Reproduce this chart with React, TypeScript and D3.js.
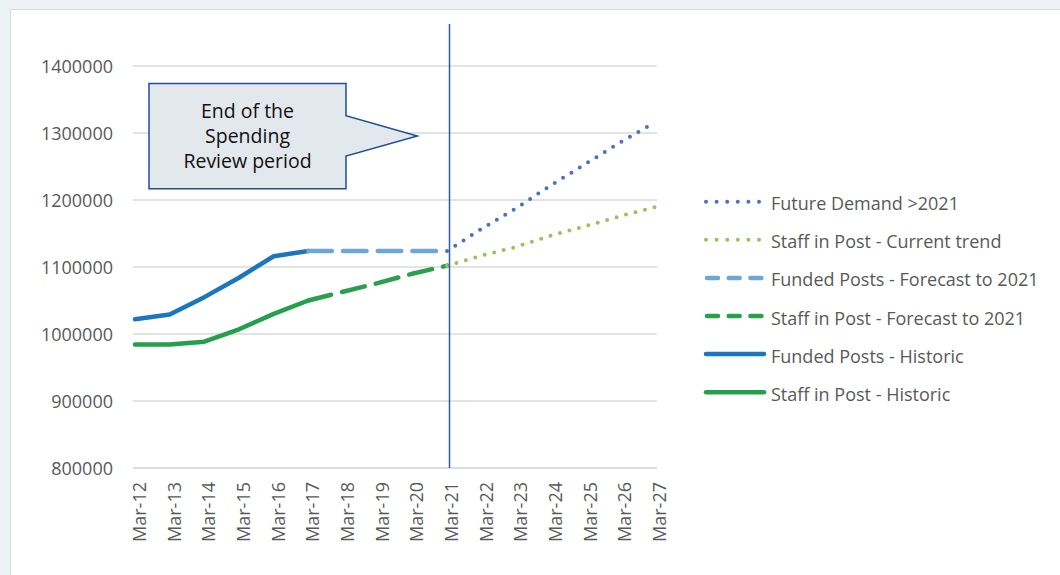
import React from "react";
import * as d3 from "d3";

const categories = ["Mar-12","Mar-13","Mar-14","Mar-15","Mar-16","Mar-17","Mar-18","Mar-19","Mar-20","Mar-21","Mar-22","Mar-23","Mar-24","Mar-25","Mar-26","Mar-27"];
const yTicks = [800000, 900000, 1000000, 1100000, 1200000, 1300000, 1400000];

const histCats = ["Mar-12","Mar-13","Mar-14","Mar-15","Mar-16","Mar-17"];
const forecastCats = ["Mar-17","Mar-18","Mar-19","Mar-20","Mar-21"];
const futureCats = ["Mar-21","Mar-22","Mar-23","Mar-24","Mar-25","Mar-26","Mar-27"];

const fundedHistoric = [1022000, 1029000, 1055000, 1084000, 1116000, 1124000];
const staffHistoric = [984500, 984500, 988500, 1007000, 1030000, 1050000];
const fundedForecast = [1124000, 1124000, 1124000, 1124000, 1124000];
const staffForecast = [1050000, 1063000, 1076000, 1090000, 1102000];
const futureDemand = [1124000, 1157000, 1188000, 1222000, 1254000, 1286000, 1316000];
const staffTrend = [1102000, 1117000, 1130000, 1147000, 1161000, 1176000, 1189500];

const calloutLines = ["End of the", "Spending", "Review period"];

type Series = { name: string; cats: string[]; values: number[]; color: string; style: "solid" | "dash" | "dot" };

const series: Series[] = [
  { name: "Staff in Post - Historic", cats: histCats, values: staffHistoric, color: "#22a04c", style: "solid" },
  { name: "Funded Posts - Historic", cats: histCats, values: fundedHistoric, color: "#1b76bd", style: "solid" },
  { name: "Staff in Post - Forecast to 2021", cats: forecastCats, values: staffForecast, color: "#2a9f4e", style: "dash" },
  { name: "Funded Posts - Forecast to 2021", cats: forecastCats, values: fundedForecast, color: "#6fa6d8", style: "dash" },
  { name: "Staff in Post - Current trend", cats: futureCats, values: staffTrend, color: "#97c45a", style: "dot" },
  { name: "Future Demand >2021", cats: futureCats, values: futureDemand, color: "#4a72be", style: "dot" },
];

const legendOrder = [
  "Future Demand >2021",
  "Staff in Post - Current trend",
  "Funded Posts - Forecast to 2021",
  "Staff in Post - Forecast to 2021",
  "Funded Posts - Historic",
  "Staff in Post - Historic",
];

const FONT = "'Open Sans', 'DejaVu Sans', sans-serif";

export default function App() {
  const W = 1060, H = 575;
  const x = d3.scalePoint<string>().domain(categories).range([135, 655]);
  const y = d3.scaleLinear().domain([800000, 1400000]).range([468, 66]);

  const line = d3.line<[string, number]>()
    .x((d) => x(d[0]) as number)
    .y((d) => y(d[1]));

  const dashFor = (s: string) => (s === "dash" ? "23.5 11.2" : s === "dot" ? "0 9.8" : undefined);
  const legendDash = (s: string) => (s === "dash" ? "11 10.7" : s === "dot" ? "0 10.6" : undefined);

  const vx = (x("Mar-21") as number) + 2.5;

  return (
    <div style={{ position: "absolute", left: 0, top: 0 }}>
      <svg width={W} height={H} style={{ display: "block" }}>
        <rect x={0} y={0} width={W} height={H} fill="#edf3f5" />
        <rect x={10.5} y={9.5} width={W + 20} height={H + 20} fill="#ffffff" stroke="#d6dde0" strokeWidth={1} />

        {yTicks.map((t) => (
          <g key={t}>
            <line x1={133} x2={657} y1={y(t)} y2={y(t)} stroke={t === 800000 ? "#d2d2d2" : "#dadada"} strokeWidth={1.5} />
            <text x={113} y={y(t)} textAnchor="end" dominantBaseline="central" fontFamily={FONT} fontSize={18} fill="#595959">
              {t}
            </text>
          </g>
        ))}

        {categories.map((c) => (
          <text
            key={c}
            transform={`translate(${(x(c) as number) + 4},482) rotate(-90)`}
            textAnchor="end"
            dominantBaseline="central"
            fontFamily={FONT}
            fontSize={18}
            fill="#595959"
          >
            {c}
          </text>
        ))}

        {series.map((s) => (
          <path
            key={s.name}
            d={line(s.cats.map((c, i) => [c, s.values[i]] as [string, number])) || ""}
            fill="none"
            stroke={s.color}
            strokeWidth={s.style === "dot" ? 4 : 4.5}
            strokeLinecap="round"
            strokeLinejoin="round"
            strokeDasharray={dashFor(s.style)}
          />
        ))}

        <line x1={vx} x2={vx} y1={24} y2={468} stroke="#2f5a9e" strokeWidth={1.5} />

        <path
          d="M149,83.5 H346 V115.7 L417.3,136 L346,156 V188.7 H149 Z"
          fill="#e3e8ec"
          stroke="#1f4e98"
          strokeWidth={1.5}
          strokeLinejoin="miter"
        />
        {calloutLines.map((t, i) => (
          <text key={t} x={247.5} y={117.5 + i * 25} textAnchor="middle" fontFamily={FONT} fontSize={19.5} fill="#111111">
            {t}
          </text>
        ))}

        {legendOrder.map((name, i) => {
          const s = series.find((d) => d.name === name)!;
          const ry = 201.7 + i * 38.1;
          return (
            <g key={name}>
              {s.style === "solid" ? (
                <line x1={706} x2={764} y1={ry} y2={ry} stroke={s.color} strokeWidth={4.5} strokeLinecap="round" />
              ) : s.style === "dash" ? (
                <line x1={707} x2={762} y1={ry} y2={ry} stroke={s.color} strokeWidth={4.5} strokeLinecap="round" strokeDasharray={legendDash(s.style)} />
              ) : (
                <line x1={706} x2={760} y1={ry} y2={ry} stroke={s.color} strokeWidth={4} strokeLinecap="round" strokeDasharray={legendDash(s.style)} />
              )}
              <text x={771} y={ry + 1.5} dominantBaseline="central" fontFamily={FONT} fontSize={18} fill="#595959">
                {name}
              </text>
            </g>
          );
        })}
      </svg>
    </div>
  );
}
